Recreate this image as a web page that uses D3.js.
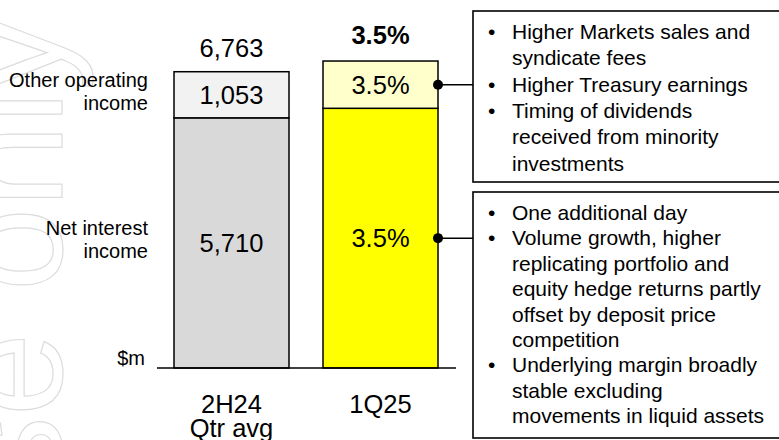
<!DOCTYPE html>
<html lang="en">
<head>
  <meta charset="utf-8">
  <title>Income bridge – 2H24 Qtr avg vs 1Q25</title>
  <style>
    html,body { margin:0; padding:0; overflow:hidden; background:#fff; }
    svg  { display:block; }
    text { font-family:"Liberation Sans", Arial, sans-serif; fill:#000; }
  </style>
  <script src="https://d3js.org/d3.v7.min.js"></script>
</head>
<body>
  <svg width="779" height="440"></svg>

  <script>
  /* ---------------- data ---------------- */
  const categories   = ["2H24", "1Q25"];
  const catSubLabels = ["Qtr avg", ""];
  const niiValues    = [5710, 5928];
  const otherValues  = [1053, 1079];
  const niiLabels    = ["5,710", "3.5%"];
  const otherLabels  = ["1,053", "3.5%"];
  const totalLabels  = ["6,763", "3.5%"];
  const segmentNames = [["Other operating", "income"], ["Net interest", "income"]];
  const noteTop = [
    ["Higher Markets sales and", "syndicate fees"],
    ["Higher Treasury earnings"],
    ["Timing of dividends", "received from minority", "investments"]
  ];
  const noteBottom = [
    ["One additional day"],
    ["Volume growth, higher", "replicating portfolio and", "equity hedge returns partly",
     "offset by deposit price", "competition"],
    ["Underlying margin broadly", "stable excluding", "movements in liquid assets"]
  ];

  const bottomFill = ["#d9d9d9", "#ffff00"];
  const topFill    = ["#f2f2f2", "#ffffcc"];

  const svg = d3.select("svg");

  /* ---------------- watermark ---------------- */
  svg.append("text")
      .attr("transform", "translate(62,16) rotate(-90)")
      .attr("text-anchor", "end")
      .style("font-size", "150px")
      .style("fill", "none")
      .style("stroke", "#dcdcdc")
      .style("stroke-width", 1.2)
      .text("use only");

  /* ---------------- scales ---------------- */
  const x = d3.scaleBand().domain(categories).range([174, 438]).paddingInner(0.2282);
  const y = d3.scaleLinear().domain([0, 8400]).range([368, 0]);

  const rows = categories.map((c, i) => ({
    cat: c, sub: catSubLabels[i], nii: niiValues[i], other: otherValues[i],
    total: niiValues[i] + otherValues[i], i
  }));

  /* ---------------- bars ---------------- */
  const g = svg.append("g");

  g.selectAll("rect.nii").data(rows).join("rect")
      .attr("x", d => x(d.cat)).attr("width", x.bandwidth())
      .attr("y", d => y(d.nii)).attr("height", d => y(0) - y(d.nii))
      .attr("fill", d => bottomFill[d.i]).attr("stroke", "#000").attr("stroke-width", 1.5);

  g.selectAll("rect.other").data(rows).join("rect")
      .attr("x", d => x(d.cat)).attr("width", x.bandwidth())
      .attr("y", d => y(d.total)).attr("height", d => y(d.nii) - y(d.total))
      .attr("fill", d => topFill[d.i]).attr("stroke", "#000").attr("stroke-width", 1.5);

  // baseline
  g.append("line")
      .attr("x1", 157).attr("x2", 456)
      .attr("y1", y(0)).attr("y2", y(0))
      .attr("stroke", "#000").attr("stroke-width", 1.5);

  /* ---------------- labels on bars ---------------- */
  const cx = d => x(d.cat) + x.bandwidth() / 2;

  g.selectAll("text.nii").data(rows).join("text")
      .attr("x", cx).attr("y", d => (y(0) + y(d.nii)) / 2).attr("dy", "0.35em")
      .attr("text-anchor", "middle").style("font-size", "25.5px")
      .text(d => niiLabels[d.i]);

  g.selectAll("text.other").data(rows).join("text")
      .attr("x", cx).attr("y", d => (y(d.nii) + y(d.total)) / 2).attr("dy", "0.35em")
      .attr("text-anchor", "middle").style("font-size", "25.5px")
      .text(d => otherLabels[d.i]);

  g.selectAll("text.total").data(rows).join("text")
      .attr("x", cx).attr("y", d => y(d.total) - (d.i ? 17 : 15))
      .attr("text-anchor", "middle").style("font-size", "25.5px")
      .style("font-weight", d => d.i ? "bold" : "normal")
      .text(d => totalLabels[d.i]);

  // category axis labels
  g.selectAll("text.cat").data(rows).join("text")
      .attr("x", cx).attr("y", 413)
      .attr("text-anchor", "middle").style("font-size", "25.5px")
      .text(d => d.cat);
  g.selectAll("text.sub").data(rows).join("text")
      .attr("x", cx).attr("y", 437)
      .attr("text-anchor", "middle").style("font-size", "25.5px")
      .text(d => d.sub);

  /* ---------------- segment names on the left ---------------- */
  const seg0 = rows[0];
  const segCentres = [(y(seg0.nii) + y(seg0.total)) / 2, (y(0) + y(seg0.nii)) / 2];
  segmentNames.forEach((lines, k) => {
    lines.forEach((t, j) => {
      g.append("text")
          .attr("x", 148).attr("y", segCentres[k] - 7.5 + j * 23)
          .attr("text-anchor", "end").style("font-size", "20px")
          .text(t);
    });
  });

  g.append("text")
      .attr("x", 145).attr("y", 365)
      .attr("text-anchor", "end").style("font-size", "20px")
      .text("$m");

  /* ---------------- note boxes + connectors ---------------- */
  const last = rows[1];
  const barRight = x(last.cat) + x.bandwidth();
  const boxX = 473;
  const boxes = [
    { top: 11,  bottom: 182, notes: noteTop,    step: 26.3, anchorY: (y(last.nii) + y(last.total)) / 2 },
    { top: 192, bottom: 438, notes: noteBottom, step: 25.4, anchorY: (y(0) + y(last.nii)) / 2 }
  ];

  boxes.forEach(b => {
    g.append("line")
        .attr("x1", barRight).attr("x2", boxX)
        .attr("y1", b.anchorY).attr("y2", b.anchorY)
        .attr("stroke", "#000").attr("stroke-width", 1.5);
    g.append("circle")
        .attr("cx", barRight).attr("cy", b.anchorY).attr("r", 5)
        .attr("fill", "#000");

    g.append("rect")
        .attr("x", boxX).attr("y", b.top)
        .attr("width", 330).attr("height", b.bottom - b.top)
        .attr("fill", "#fff").attr("stroke", "#000").attr("stroke-width", 1.6);

    let line = 0;
    const firstY = b.top + 28;
    b.notes.forEach(item => {
      g.append("text")
          .attr("x", 488).attr("y", firstY + line * b.step)
          .style("font-size", "21px").text("•");
      item.forEach(t => {
        g.append("text")
            .attr("x", 512).attr("y", firstY + line * b.step)
            .style("font-size", "21px").text(t);
        line++;
      });
    });
  });
  </script>
</body>
</html>
